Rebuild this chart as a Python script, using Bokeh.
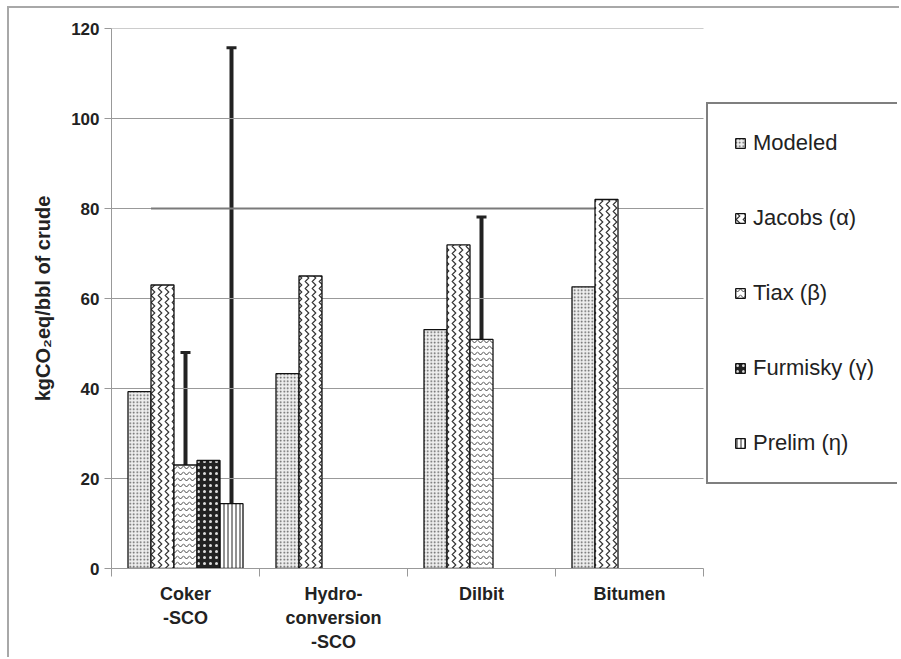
from bokeh.plotting import figure
from bokeh.models import ColumnDataSource, FixedTicker, Whisker, TeeHead, Legend, LegendItem
from bokeh.transform import dodge
from bokeh.embed import file_html
from bokeh.resources import INLINE

# ---------------- data ----------------
categories = ["Coker\n-SCO", "Hydro-\nconversion\n-SCO", "Dilbit", "Bitumen"]
series = ["Modeled", "Jacobs (\u03b1)", "Tiax (\u03b2)", "Furmisky (\u03b3)", "Prelim (\u03b7)"]
modeled = [39.3, 43.3, 53.1, 62.6]
jacobs = [63.0, 65.0, 71.9, 82.0]
tiax = [23.0, None, 50.9, None]
furmisky = [24.0, None, None, None]
prelim = [14.4, None, None, None]
tiax_low = [22.0, None, 50.3, None]
tiax_high = [48.0, None, 78.1, None]
prelim_low = [13.5, None, None, None]
prelim_high = [115.7, None, None, None]
ref_value = 80
y_ticks = [0, 20, 40, 60, 80, 100, 120]

values = [modeled, jacobs, tiax, furmisky, prelim]

# ---------------- styles / layout ----------------
styles = [
    dict(fill_color="#eeeeee", hatch_pattern="dot", hatch_color="#555555", hatch_scale=3.5, hatch_weight=1),
    dict(fill_color="white", hatch_pattern="vertical_wave", hatch_color="#333333", hatch_scale=7, hatch_weight=1.2),
    dict(fill_color="white", hatch_pattern="horizontal_wave", hatch_color="#444444", hatch_scale=6, hatch_weight=1),
    dict(fill_color="#222222", hatch_pattern="dot", hatch_color="#dddddd", hatch_scale=6, hatch_weight=1),
    dict(fill_color="white", hatch_pattern="vertical_line", hatch_color="#222222", hatch_scale=4, hatch_weight=1),
]
FONT = "Liberation Sans"
W, H = 892, 651
BORDER_L, BORDER_R, BORDER_T, BORDER_B = 102, 4, 20, 91
CAT_PX = 148.0
n_cat = len(categories)
x_end = (W - BORDER_L - BORDER_R) / CAT_PX   # frame runs under the legend, nearly to the right edge
bar_w = 23.0 / CAT_PX
offsets = [(j - 2) * bar_w for j in range(len(series))]
centers = [i + 0.5 for i in range(n_cat)]

p = figure(width=W, height=H, x_range=(0, x_end), y_range=(0, 120),
           output_backend="svg", toolbar_location=None,
           min_border_left=BORDER_L, min_border_right=BORDER_R,
           min_border_top=BORDER_T, min_border_bottom=BORDER_B)
p.styles = {"border-top": "2px solid #a8a8a8", "border-left": "2px solid #a8a8a8",
            "margin-left": "7px", "margin-top": "6px"}
p.outline_line_color = None
p.background_fill_color = "white"

# horizontal grid lines, only across the category area
grid_src = ColumnDataSource(dict(y=y_ticks[1:], x0=[0] * (len(y_ticks) - 1), x1=[n_cat] * (len(y_ticks) - 1)))
p.segment(x0="x0", x1="x1", y0="y", y1="y", source=grid_src, line_color="#999999", line_width=1)

# reference line at 80
ref_src = ColumnDataSource(dict(x0=[centers[0] + offsets[0] + bar_w / 2],
                                x1=[centers[-1] + offsets[0] + bar_w / 2],
                                y=[ref_value]))
p.segment(x0="x0", x1="x1", y0="y", y1="y", source=ref_src, line_color="#7a7a7a", line_width=2.2)

renderers = []
for j, vals in enumerate(values):
    xs = [centers[i] for i, v in enumerate(vals) if v is not None]
    tops = [v for v in vals if v is not None]
    src = ColumnDataSource(dict(xc=xs, top=tops))
    r = p.vbar(x=dodge("xc", offsets[j], range=p.x_range), top="top", bottom=0, width=bar_w,
               source=src, line_color="#111111", line_width=1.3, **styles[j])
    renderers.append(r)

def add_err(j, lows, highs):
    xs = [centers[i] for i, v in enumerate(lows) if v is not None]
    lo = [v for v in lows if v is not None]
    hi = [v for v in highs if v is not None]
    src = ColumnDataSource(dict(xc=xs, lo=lo, hi=hi))
    w = Whisker(base=dodge("xc", offsets[j], range=p.x_range), lower="lo", upper="hi", source=src,
                dimension="height", line_color="#222222", line_width=4,
                upper_head=TeeHead(size=10, line_width=3, line_color="#222222"),
                lower_head=TeeHead(size=10, line_width=3, line_color="#222222"))
    p.add_layout(w)

add_err(2, tiax_low, tiax_high)
add_err(4, prelim_low, prelim_high)

# axes
xa = p.xaxis[0]
xa.bounds = (0, n_cat)
xa.ticker = FixedTicker(ticks=centers, minor_ticks=list(range(n_cat + 1)))
xa.major_label_overrides = {c: lab for c, lab in zip(centers, categories)}
xa.major_tick_line_color = None
xa.major_tick_out = 0
xa.minor_tick_out = 8
xa.minor_tick_in = 0
xa.minor_tick_line_color = "#999999"
xa.axis_line_color = "#999999"
xa.major_label_standoff = 7
xa.major_label_text_font_size = "18px"
xa.major_label_text_line_height = 1.2

ya = p.yaxis[0]
ya.ticker = FixedTicker(ticks=y_ticks, minor_ticks=[])
ya.major_tick_out = 7
ya.major_tick_in = 0
ya.major_tick_line_color = "#999999"
ya.axis_line_color = "#999999"
ya.major_label_standoff = 5
ya.major_label_text_font_size = "17px"
ya.axis_label = "kgCO\u2082eq/bbl of crude"
ya.axis_label_text_font = FONT
ya.axis_label_text_font_style = "bold"
ya.axis_label_text_font_size = "20px"
ya.axis_label_text_color = "#222222"
ya.axis_label_standoff = 14

for ax in (xa, ya):
    ax.major_label_text_font = FONT
    ax.major_label_text_font_style = "bold"
    ax.major_label_text_color = "#222222"

p.xgrid.visible = False
p.ygrid.visible = False

legend = Legend(items=[LegendItem(label=s, renderers=[r]) for s, r in zip(series, renderers)],
                location=(595, 84), padding=26, spacing=49, label_height=24, label_width=300,
                glyph_width=12, glyph_height=12, label_standoff=7,
                label_text_font=FONT, label_text_font_size="22px", label_text_color="#222222",
                border_line_color="#000000", border_line_width=2,
                background_fill_color="white", background_fill_alpha=1.0)
p.add_layout(legend)

open("out.html", "w").write(file_html(p, INLINE))
